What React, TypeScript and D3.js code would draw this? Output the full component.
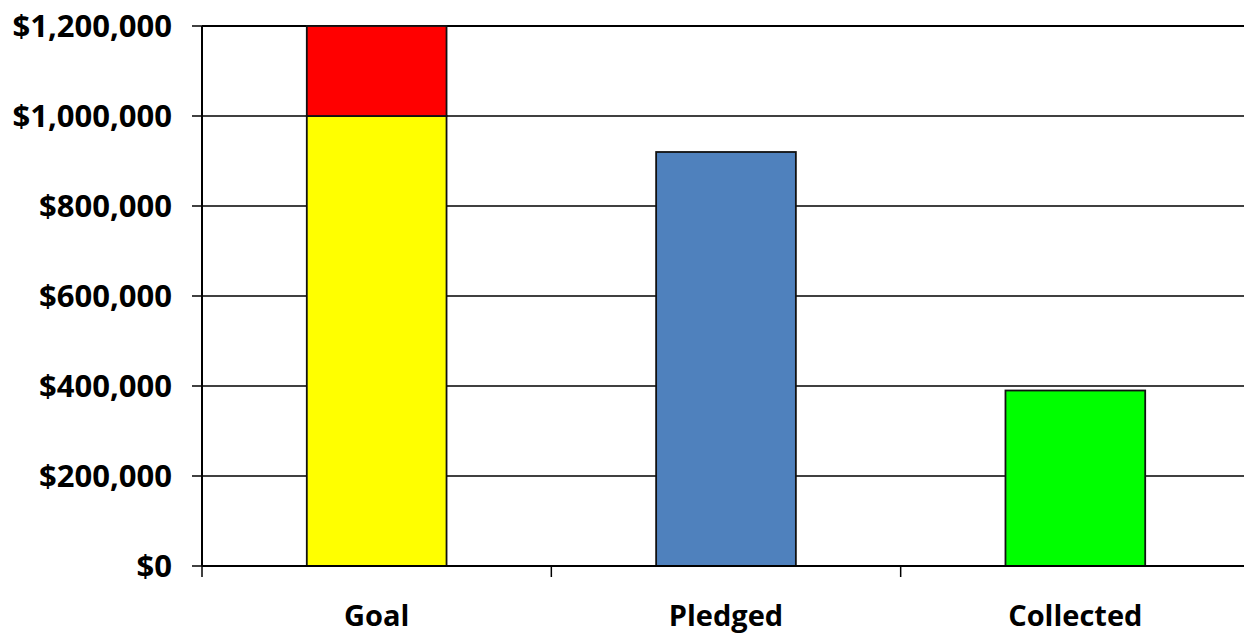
import React, { useRef, useEffect } from 'react';
import * as d3 from 'd3';

const categories = ['Goal', 'Pledged', 'Collected'];
// base segment and the stacked top segment (only the goal has one)
const baseValues = [1000000, 920000, 390000];
const topValues = [200000, 0, 0];
const baseColors = ['#ffff00', '#4f81bd', '#00ff00'];
const topColor = '#ff0000';
const yTicks = [0, 200000, 400000, 600000, 800000, 1000000, 1200000];

const App: React.FC = () => {
  const svgRef = useRef<SVGSVGElement | null>(null);

  useEffect(() => {
    if (!svgRef.current) return;
    const svg = d3.select(svgRef.current);
    svg.selectAll('*').remove();

    const width = 1244;
    const height = 635;
    const margin = { top: 26, left: 202, bottom: 69 };
    const plotRight = 1250;
    const font = "'Open Sans', sans-serif";

    const y = d3.scaleLinear()
      .domain([0, 1200000])
      .range([height - margin.bottom, margin.top]);

    const x = d3.scaleBand<string>()
      .domain(categories)
      .range([margin.left, plotRight])
      .paddingInner(0.6)
      .paddingOuter(0.3);

    // band boundaries for the category tick marks
    const xBounds = d3.scaleBand<string>()
      .domain(categories)
      .range([margin.left, plotRight])
      .padding(0);

    const fmt = (v: number) => '$' + d3.format(',')(v);

    // gridlines
    svg.append('g')
      .selectAll('line')
      .data(yTicks.filter(t => t > 0))
      .enter()
      .append('line')
      .attr('x1', margin.left)
      .attr('x2', width)
      .attr('y1', d => y(d))
      .attr('y2', d => y(d))
      .attr('stroke', '#000')
      .attr('stroke-width', d => (d === 1200000 ? 2 : 1.5));

    // base bars
    svg.append('g')
      .selectAll('rect')
      .data(categories)
      .enter()
      .append('rect')
      .attr('x', d => x(d)!)
      .attr('width', x.bandwidth())
      .attr('y', (_, i) => y(baseValues[i]))
      .attr('height', (_, i) => y(0) - y(baseValues[i]))
      .attr('fill', (_, i) => baseColors[i])
      .attr('stroke', '#111')
      .attr('stroke-width', 1.8);

    // stacked top segments
    svg.append('g')
      .selectAll('rect')
      .data(categories.filter((_, i) => topValues[i] > 0))
      .enter()
      .append('rect')
      .attr('x', d => x(d)!)
      .attr('width', x.bandwidth())
      .attr('y', d => {
        const i = categories.indexOf(d);
        return y(baseValues[i] + topValues[i]);
      })
      .attr('height', d => {
        const i = categories.indexOf(d);
        return y(baseValues[i]) - y(baseValues[i] + topValues[i]);
      })
      .attr('fill', topColor)
      .attr('stroke', '#111')
      .attr('stroke-width', 1.8);

    // y axis
    const yAxis = svg.append('g');
    yAxis.append('line')
      .attr('x1', margin.left).attr('x2', margin.left)
      .attr('y1', y(1200000)).attr('y2', y(0))
      .attr('stroke', '#000').attr('stroke-width', 2);
    yAxis.selectAll('line.tick')
      .data(yTicks)
      .enter()
      .append('line')
      .attr('class', 'tick')
      .attr('x1', margin.left - 10).attr('x2', margin.left)
      .attr('y1', d => y(d)).attr('y2', d => y(d))
      .attr('stroke', '#000').attr('stroke-width', 1.5);
    yAxis.selectAll('text')
      .data(yTicks)
      .enter()
      .append('text')
      .attr('x', 172)
      .attr('y', d => y(d))
      .attr('dy', '0.36em')
      .attr('text-anchor', 'end')
      .attr('font-family', font)
      .attr('font-weight', 'bold')
      .attr('font-size', 31)
      .text(d => fmt(d));

    // x axis
    const xAxis = svg.append('g');
    xAxis.append('line')
      .attr('x1', margin.left).attr('x2', width)
      .attr('y1', y(0)).attr('y2', y(0))
      .attr('stroke', '#000').attr('stroke-width', 2);
    xAxis.selectAll('line.tick')
      .data(categories)
      .enter()
      .append('line')
      .attr('class', 'tick')
      .attr('x1', d => xBounds(d)!).attr('x2', d => xBounds(d)!)
      .attr('y1', y(0)).attr('y2', y(0) + 11)
      .attr('stroke', '#000').attr('stroke-width', 1.5);
    xAxis.selectAll('text')
      .data(categories)
      .enter()
      .append('text')
      .attr('x', d => x(d)! + x.bandwidth() / 2)
      .attr('y', 626)
      .attr('text-anchor', 'middle')
      .attr('font-family', font)
      .attr('font-weight', 'bold')
      .attr('font-size', 29)
      .text(d => d);
  }, []);

  return (
    <svg
      ref={svgRef}
      width={1244}
      height={635}
      style={{ position: 'absolute', left: 0, top: 0, background: '#fff' }}
    />
  );
};

export default App;
